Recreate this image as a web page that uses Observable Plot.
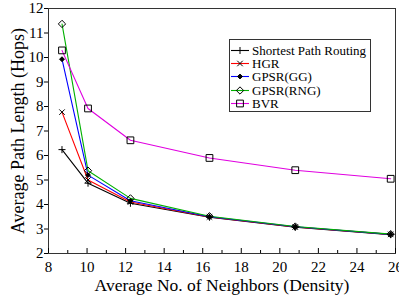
<!DOCTYPE html>
<html>
<head>
<meta charset="utf-8">
<script src="https://cdn.jsdelivr.net/npm/d3@7"></script>
<script src="https://cdn.jsdelivr.net/npm/@observablehq/plot@0.6"></script>
<style>
  html, body { margin: 0; padding: 0; background: #fff; }
  #wrap { position: relative; width: 399px; height: 300px; font-family: "Liberation Serif", "Times New Roman", serif; }
  #wrap > svg { position: absolute; left: 0; top: 0; }
  #legend { position: absolute; left: 229px; top: 39px; width: 142px; height: 73px; border: 1px solid #333; background: #fff; box-sizing: border-box; }
  .row { position: absolute; left: 0; height: 13px; display: flex; align-items: center; font-size: 13px; line-height: 13px; color: #000; white-space: nowrap; }
  .row svg { margin-left: 1px; margin-right: 3px; }
</style>
</head>
<body>
<div id="wrap"><div id="legend"></div></div>
<script>
const density = [8.7, 10.05, 12.25, 16.35, 20.8, 25.75];
const seriesNames = ["Shortest Path Routing", "HGR", "GPSR(GG)", "GPSR(RNG)", "BVR"];
const spr = [6.24, 4.87, 4.05, 3.48, 3.07, 2.77];
const hgr = [7.77, 5.0, 4.1, 3.49, 3.08, 2.78];
const gg  = [9.93, 5.2, 4.15, 3.5, 3.09, 2.78];
const rng = [11.37, 5.38, 4.25, 3.52, 3.1, 2.79];
const bvr = [10.29, 7.92, 6.62, 5.9, 5.4, 5.05];
const xTicks = [8, 10, 12, 14, 16, 18, 20, 22, 24, 26];
const xMinor = [9, 11, 13, 15, 17, 19, 21, 23, 25];
const yTicks = [2, 3, 4, 5, 6, 7, 8, 9, 10, 11, 12];
const colors = ["#000000", "#ff0000", "#0000ff", "#00b000", "#e000e0"];
const symbols = ["plus", "times", "diamond2", "diamond2", "square2"];
const symFill = ["none", "none", "#000", "none", "none"];
const symR = [2.4, 2.6, 2.2, 3.3, 4.3];

const allValues = [spr, hgr, gg, rng, bvr];
const data = [];
allValues.forEach((vals, s) => vals.forEach((v, i) => data.push({series: seriesNames[s], x: density[i], y: v, s})));

const font = '"Liberation Serif", "Times New Roman", serif';
const marks = [
  Plot.frame({stroke: "#333"}),
  Plot.axisX({ticks: xTicks, tickSize: -5, tickFormat: () => "", label: null}),
  Plot.axisX({ticks: xMinor, tickSize: -3, tickFormat: () => "", label: null}),
  Plot.axisX({ticks: xTicks, tickSize: 0, tickPadding: 8, fontSize: 15, label: null}),
  Plot.axisY({ticks: yTicks, tickSize: 4, tickPadding: 1, fontSize: 15, label: null}),
  Plot.text(["Average No. of Neighbors (Density)"], {frameAnchor: "bottom", dy: 37, fontSize: 17.5}),
  Plot.text(["Average Path Length (Hops)"], {frameAnchor: "left", textAnchor: "middle", rotate: -90, dx: -30, fontSize: 18})
];
seriesNames.forEach((name, s) => {
  const d = data.filter(p => p.s === s);
  marks.push(Plot.line(d, {x: "x", y: "y", stroke: colors[s], strokeWidth: 1.1}));
});
seriesNames.forEach((name, s) => {
  const d = data.filter(p => p.s === s);
  marks.push(Plot.dot(d, {x: "x", y: "y", symbol: symbols[s], r: symR[s], stroke: "#000", fill: symFill[s], strokeWidth: 1}));
});

const chart = Plot.plot({
  width: 399, height: 300,
  marginLeft: 48, marginRight: 4, marginTop: 8, marginBottom: 47,
  style: {fontFamily: font, color: "#000", background: "#fff"},
  x: {domain: [8, 26], axis: null},
  y: {domain: [2, 12], axis: null},
  marks
});
document.getElementById("wrap").prepend(chart);

// legend
const legend = document.getElementById("legend");
const symMap = {plus: d3.symbolPlus, times: d3.symbolTimes, diamond2: d3.symbolDiamond2, square2: d3.symbolSquare2};
seriesNames.forEach((name, s) => {
  const row = document.createElement("div");
  row.className = "row";
  row.style.top = (4 + s * 13.2) + "px";
  const w = 18, h = 13;
  const svg = d3.create("svg").attr("width", w).attr("height", h);
  svg.append("line").attr("x1", 0).attr("x2", w).attr("y1", h / 2).attr("y2", h / 2).attr("stroke", colors[s]).attr("stroke-width", 1.1);
  svg.append("path").attr("transform", `translate(${w / 2},${h / 2})`)
    .attr("d", d3.symbol(symMap[symbols[s]], Math.PI * symR[s] * symR[s])())
    .attr("stroke", "#000").attr("fill", symFill[s] === "none" ? "none" : symFill[s]).attr("stroke-width", 1);
  row.appendChild(svg.node());
  const span = document.createElement("span");
  span.textContent = name;
  row.appendChild(span);
  legend.appendChild(row);
});
</script>
</body>
</html>
